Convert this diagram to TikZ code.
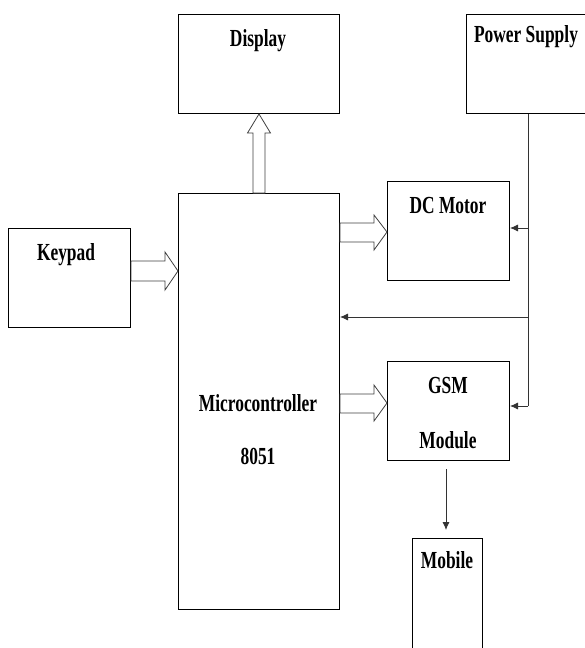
\documentclass[tikz,border=0pt]{standalone}
\usepackage{fontspec}
\setmainfont{Liberation Serif}
\usetikzlibrary{arrows.meta,calc}
\newcommand{\lbl}[1]{\scalebox{0.71}[1]{\bfseries #1}}
\begin{document}
\begin{tikzpicture}[x=1pt,y=-1pt,
  blk/.style={draw,line width=1pt,inner sep=0pt,anchor=north west},
  txt/.style={anchor=base,inner sep=0pt,font=\fontsize{24.5}{28}\selectfont},
  hollow/.style={draw=black!75,line width=0.8pt,fill=white,line join=miter},
  pwr/.style={draw=black!80,line width=0.8pt,-{Latex[length=8pt,width=7pt]}}]
\useasboundingbox (0,0) rectangle (585,648);
% boxes
\node[blk,minimum width=161pt,minimum height=99pt] (disp) at (178,14) {};
\node[blk,minimum width=119pt,minimum height=99pt] (ps) at (466,14) {};
\node[blk,minimum width=161pt,minimum height=416pt] (mc) at (178,193) {};
\node[blk,minimum width=122pt,minimum height=99pt] (key) at (8,228) {};
\node[blk,minimum width=122pt,minimum height=99pt] (dc) at (387,181) {};
\node[blk,minimum width=122pt,minimum height=99pt] (gsm) at (387,361) {};
\node[blk,minimum width=70pt,minimum height=120pt] (mob) at (412,538) {};
% texts
\node[txt] (tdisp) at (258,46) {\lbl{Display}};
\node[txt] (tps) at (526,42) {\lbl{Power Supply}};
\node[txt] (tkey) at (66,260) {\lbl{Keypad}};
\node[txt] (tdc) at (448,213) {\lbl{DC Motor}};
\node[txt] (tgsm) at (448,393) {\lbl{GSM}};
\node[txt] (tmod) at (448,448) {\lbl{Module}};
\node[txt] (tmob) at (447,568) {\lbl{Mobile}};
\node[txt] (tmc) at (258,411) {\lbl{Microcontroller}};
\node[txt] (t8051) at (258,464) {\lbl{8051}};
% hollow arrows
\draw[hollow] (key.east |- 0,261) -- (165,261) -- (165,252) -- (mc.west |- 0,271) -- (165,290) -- (165,281) -- (key.east |- 0,281) -- cycle;
\draw[hollow] (mc.east |- 0,223) -- (374,223) -- (374,215) -- (dc.west |- 0,232) -- (374,250) -- (374,242) -- (mc.east |- 0,242) -- cycle;
\draw[hollow] (mc.east |- 0,394) -- (374,394) -- (374,385) -- (gsm.west |- 0,403) -- (374,421) -- (374,413) -- (mc.east |- 0,413) -- cycle;
\draw[hollow] (253,0 |- mc.north) -- (253,133) -- (247.5,133) -- (259,0 |- disp.south) -- (270.5,133) -- (265,133) -- (265,0 |- mc.north) -- cycle;
% power lines
\coordinate (ptop) at (528,0 |- ps.south);
\coordinate (p1) at (528,228);
\coordinate (p2) at (528,317);
\coordinate (p3) at (528,406);
\draw[draw=black!80,line width=0.8pt] (ptop) -- (p3);
\draw[pwr] (p1) -- (p1 -| dc.east);
\draw[pwr] (p2) -- (p2 -| mc.east);
\draw[pwr] (p3) -- (p3 -| gsm.east);
% GSM to mobile
\coordinate (g1) at (446,0 |- gsm.south);
\draw[pwr] ($(g1)+(0,8)$) -- (446,530);
\end{tikzpicture}
\end{document}
